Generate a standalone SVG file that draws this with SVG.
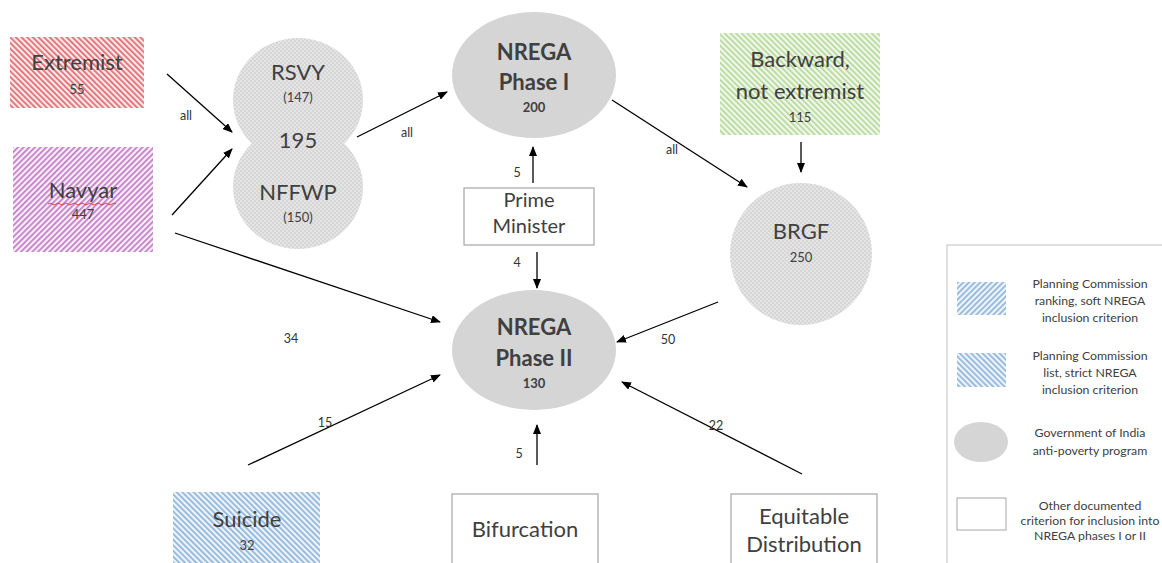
<svg xmlns="http://www.w3.org/2000/svg" width="1162" height="563" viewBox="0 0 1162 563">
<style>
.t{font-family:Lato,"Open Sans","Liberation Sans",sans-serif;fill:#404040;text-anchor:middle}
.big{font-size:22px}
.pm{font-size:20px}
.bold{font-size:22px;font-weight:bold}
.num{font-size:13px}
.numb{font-size:13px;font-weight:bold}
.lab{font-size:12.5px;fill:#333}
.leg{font-size:12.3px}
.c{stroke:#000;stroke-width:1.3;fill:none;marker-end:url(#ah)}
.box{fill:#fff;stroke:#a6a6a6;stroke-width:1.2}
</style>
<defs>
<marker id="ah" markerUnits="userSpaceOnUse" markerWidth="10" markerHeight="8" refX="9" refY="4" orient="auto">
<path d="M0,0 L10,4 L0,8 Z" fill="#000"/>
</marker>
<pattern id="hRed" patternUnits="userSpaceOnUse" width="4" height="4" patternTransform="rotate(-45)">
<rect width="4" height="4" fill="#fbe9ea"/><rect width="1.7" height="4" fill="#e0686e"/>
</pattern>
<pattern id="hPurple" patternUnits="userSpaceOnUse" width="4" height="4" patternTransform="rotate(45)">
<rect width="4" height="4" fill="#faeefa"/><rect width="1.7" height="4" fill="#c07ac4"/>
</pattern>
<pattern id="hGreen" patternUnits="userSpaceOnUse" width="4" height="4" patternTransform="rotate(-45)">
<rect width="4" height="4" fill="#f1f8ea"/><rect width="1.7" height="4" fill="#b4d89a"/>
</pattern>
<pattern id="hBlueS" patternUnits="userSpaceOnUse" width="4" height="4" patternTransform="rotate(-45)">
<rect width="4" height="4" fill="#eef4fb"/><rect width="1.7" height="4" fill="#8db3d8"/>
</pattern>
<pattern id="hBlueR" patternUnits="userSpaceOnUse" width="4" height="4" patternTransform="rotate(45)">
<rect width="4" height="4" fill="#eef4fb"/><rect width="1.7" height="4" fill="#8db3d8"/>
</pattern>
<pattern id="dots" patternUnits="userSpaceOnUse" width="4" height="4">
<rect width="4" height="4" fill="#d6d6d6"/><circle cx="1" cy="1" r="0.9" fill="#ececec"/><circle cx="3" cy="3" r="0.9" fill="#ececec"/>
</pattern>
</defs>
<rect width="1162" height="563" fill="#fff"/>

<g id="connectors">
<path class="c" d="M167,74 L232,132"/>
<path class="c" d="M172,215 L232,149"/>
<path class="c" d="M175,233 L440,322"/>
<path class="c" d="M357,137 L447,92"/>
<path class="c" d="M533,183 L533,147"/>
<path class="c" d="M537,252 L537,288"/>
<path class="c" d="M612,100 L747,187"/>
<path class="c" d="M801,142 L801,172"/>
<path class="c" d="M718,302 L617,342"/>
<path class="c" d="M248,465 L440,375"/>
<path class="c" d="M537,465 L537,425"/>
<path class="c" d="M802,474 L622,382"/>
<text class="t lab" x="186" y="120">all</text>
<text class="t lab" x="407" y="137">all</text>
<text class="t lab" x="672" y="154">all</text>
<text class="t lab" x="517" y="177">5</text>
<text class="t lab" x="517" y="267">4</text>
<text class="t lab" x="291" y="343">34</text>
<text class="t lab" x="668" y="344">50</text>
<text class="t lab" x="325" y="427">15</text>
<text class="t lab" x="519" y="458">5</text>
<text class="t lab" x="716" y="430">22</text>
</g>

<g id="extremist">
<rect x="10" y="37" width="134" height="71" fill="url(#hRed)"/>
<text class="t big" x="77" y="70">Extremist</text>
<text class="t num" x="77" y="94">55</text>
</g>

<g id="navyar">
<rect x="13" y="147" width="140" height="105" fill="url(#hPurple)"/>
<text class="t big" x="83" y="198">Navyar</text>
<path d="M48,204 q2,-2 4,0 t4,0 t4,0 t4,0 t4,0 t4,0 t4,0 t4,0 t4,0 t4,0 t4,0 t4,0 t4,0 t4,0 t4,0 t4,0 t4,0" fill="none" stroke="#e03030" stroke-width="0.9"/>
<text class="t num" x="83" y="219">447</text>
</g>

<g id="rsvy-nffwp">
<ellipse cx="298" cy="100" rx="65" ry="62" fill="url(#dots)"/>
<ellipse cx="298" cy="187" rx="65" ry="62" fill="url(#dots)"/>
<text class="t big" x="298" y="80">RSVY</text>
<text class="t num" x="298" y="102">(147)</text>
<text class="t big" x="298" y="148">195</text>
<text class="t big" x="298" y="200">NFFWP</text>
<text class="t num" x="298" y="222">(150)</text>
</g>

<g id="phase1">
<ellipse cx="534" cy="75" rx="82" ry="63" fill="#d5d5d5"/>
<text class="t bold" x="534" y="60">NREGA</text>
<text class="t bold" x="534" y="90">Phase I</text>
<text class="t numb" x="534" y="112">200</text>
</g>

<g id="prime-minister">
<rect class="box" x="464" y="188" width="130" height="57"/>
<text class="t pm" x="529" y="207">Prime</text>
<text class="t pm" x="529" y="233">Minister</text>
</g>

<g id="backward">
<rect x="720" y="33" width="160" height="102" fill="url(#hGreen)"/>
<text class="t big" x="800" y="67">Backward,</text>
<text class="t big" x="800" y="99">not extremist</text>
<text class="t num" x="800" y="122">115</text>
</g>

<g id="brgf">
<ellipse cx="801" cy="254" rx="71" ry="71" fill="url(#dots)"/>
<text class="t big" x="801" y="239">BRGF</text>
<text class="t num" x="801" y="262">250</text>
</g>

<g id="phase2">
<ellipse cx="534" cy="350" rx="82" ry="60" fill="#d5d5d5"/>
<text class="t bold" x="534" y="335">NREGA</text>
<text class="t bold" x="534" y="366">Phase II</text>
<text class="t numb" x="534" y="388">130</text>
</g>

<g id="suicide">
<rect x="173" y="492" width="147" height="80" fill="url(#hBlueS)"/>
<text class="t big" x="247" y="527">Suicide</text>
<text class="t num" x="247" y="550">32</text>
</g>

<g id="bifurcation">
<rect class="box" x="452" y="494" width="146" height="80"/>
<text class="t big" x="525" y="537">Bifurcation</text>
</g>

<g id="equitable">
<rect class="box" x="731" y="494" width="146" height="80"/>
<text class="t big" x="804" y="524">Equitable</text>
<text class="t big" x="804" y="552">Distribution</text>
</g>

<g id="legend">
<rect x="947" y="245" width="230" height="330" fill="#fff" stroke="#bfbfbf" stroke-width="1"/>
<rect x="957" y="282" width="49" height="33" fill="url(#hBlueR)"/>
<text class="t leg" x="1090" y="288">Planning Commission</text>
<text class="t leg" x="1090" y="305">ranking, soft NREGA</text>
<text class="t leg" x="1090" y="322">inclusion criterion</text>
<rect x="957" y="353" width="49" height="34" fill="url(#hBlueS)"/>
<text class="t leg" x="1090" y="360">Planning Commission</text>
<text class="t leg" x="1090" y="377">list, strict NREGA</text>
<text class="t leg" x="1090" y="394">inclusion criterion</text>
<ellipse cx="981" cy="442" rx="27" ry="20" fill="#d5d5d5"/>
<text class="t leg" x="1090" y="437">Government of India</text>
<text class="t leg" x="1090" y="455">anti-poverty program</text>
<rect x="957" y="498" width="49" height="32" fill="#fff" stroke="#a6a6a6" stroke-width="1"/>
<text class="t leg" x="1090" y="510">Other documented</text>
<text class="t leg" x="1090" y="525">criterion for inclusion into</text>
<text class="t leg" x="1090" y="540">NREGA phases I or II</text>
</g>
</svg>
